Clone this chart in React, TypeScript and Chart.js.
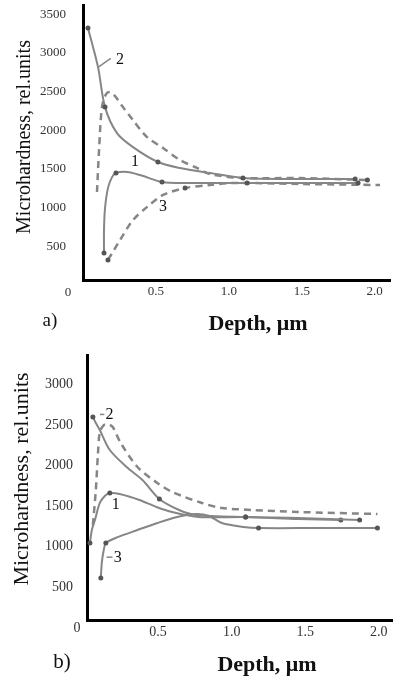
import React, { useEffect, useRef } from 'react';
import { Chart, registerables } from 'chart.js';

Chart.register(...registerables);

const SERIF = "'Liberation Serif', 'Times New Roman', serif";

// ---------- Panel a) ----------
const A2_X = [0.034, 0.103, 0.151, 0.233, 0.343, 0.514, 0.665, 0.871, 1.097, 1.49, 1.866];
const A2_Y = [3323, 2818, 2301, 1965, 1784, 1591, 1514, 1449, 1384, 1371, 1371];

const A2D_X = [0.096, 0.11, 0.13, 0.158, 0.185, 0.219, 0.274, 0.343, 0.439, 0.549, 0.665, 0.782, 0.871, 1.097, 1.49, 1.95];
const A2D_Y = [1203, 1745, 2301, 2469, 2495, 2444, 2301, 2133, 1913, 1772, 1617, 1514, 1436, 1384, 1384, 1358];

const A1_X = [0.144, 0.144, 0.151, 0.171, 0.199, 0.226, 0.302, 0.391, 0.542, 0.713, 1.125, 1.49, 1.886];
const A1_Y = [414, 711, 994, 1254, 1396, 1449, 1462, 1423, 1333, 1320, 1320, 1320, 1320];

const A3_X = [0.171, 0.213, 0.254, 0.343, 0.439, 0.549, 0.7, 0.871, 1.029, 1.49, 2.037];
const A3_Y = [325, 454, 583, 841, 1010, 1165, 1255, 1294, 1320, 1307, 1294];

// ---------- Panel b) ----------
const B2_X = [0.057, 0.077, 0.104, 0.172, 0.286, 0.394, 0.509, 0.643, 0.758, 1.095, 1.452, 1.87];
const B2_Y = [2598, 2524, 2438, 2191, 1982, 1822, 1588, 1452, 1390, 1365, 1353, 1328];

const B2D_X = [0.057, 0.077, 0.091, 0.104, 0.131, 0.158, 0.192, 0.246, 0.36, 0.495, 0.596, 0.799, 0.933, 1.135, 1.452, 1.991];
const B2D_Y = [1265, 1697, 2129, 2413, 2499, 2512, 2475, 2278, 1982, 1785, 1674, 1538, 1477, 1452, 1427, 1402];

const B1_X = [0.037, 0.05, 0.071, 0.104, 0.138, 0.172, 0.239, 0.374, 0.489, 0.596, 0.778, 1.095, 1.452, 1.742];
const B1_Y = [1045, 1205, 1328, 1538, 1624, 1661, 1649, 1575, 1489, 1427, 1365, 1365, 1341, 1328];

const B3_X = [0.111, 0.118, 0.131, 0.145, 0.226, 0.36, 0.495, 0.63, 0.758, 0.846, 0.933, 1.081, 1.183, 1.587, 1.991];
const B3_Y = [613, 810, 958, 1045, 1117, 1205, 1291, 1365, 1402, 1377, 1291, 1242, 1229, 1229, 1229];

// ---------- Ticks & texts ----------
const Y_TICKS_A = [500, 1000, 1500, 2000, 2500, 3000, 3500];
const Y_TICKS_B = [500, 1000, 1500, 2000, 2500, 3000];
const X_TICKS = [0.5, 1.0, 1.5, 2.0];
const X_TICK_LABELS = ['0.5', '1.0', '1.5', '2.0'];
const Y_TITLE = 'Microhardness, rel.units';
const X_TITLE = 'Depth, \u03bcm';

// curve labels: [text, x, y]
const LABELS_A: [string, number, number][] = [['2', 0.254, 2909], ['1', 0.357, 1590], ['3', 0.549, 1010]];
const LABELS_B: [string, number, number][] = [['2', 0.17, 2625], ['1', 0.213, 1513], ['3', 0.226, 858]];
// leader lines: [x1, y1, x2, y2]
const LEADERS_A: [number, number, number, number][] = [[0.1, 2810, 0.19, 2930]];
const LEADERS_B: [number, number, number, number][] = [[0.105, 2630, 0.135, 2630], [0.15, 870, 0.19, 870]];

const LINE = '#868686';
const MARK = '#555';

type Series = { xs: number[]; ys: number[]; dashed: boolean; marks: number[] };

type PanelCfg = {
  height: number;
  area: { left: number; top: number; right: number; bottom: number };
  xMin: number; xMax: number; yMin: number; yMax: number;
  yTicks: number[];
  series: Series[];
  yTickPad: number;
  tickFont: number;
  labels: [string, number, number][];
  leaders: [number, number, number, number][];
  panelName: string;
  panelPos: [number, number];
  panelFont: number;
  zeroPos: [number, number];
  xTitlePos: [number, number];
  xTitleFont: number;
  yTitlePos: [number, number];
  yTitleFont: number;
};

const PANEL_A: PanelCfg = {
  height: 340,
  area: { left: 83, top: 5, right: 390, bottom: 280 },
  xMin: 0, xMax: 2.105, yMin: 66, yMax: 3621,
  yTicks: Y_TICKS_A,
  series: [
    { xs: A2_X, ys: A2_Y, dashed: false, marks: [0, 2, 5, 8, 10] },
    { xs: A2D_X, ys: A2D_Y, dashed: true, marks: [15] },
    { xs: A1_X, ys: A1_Y, dashed: false, marks: [0, 5, 8, 10, 12] },
    { xs: A3_X, ys: A3_Y, dashed: true, marks: [0, 6] },
  ],
  yTickPad: 17,
  tickFont: 13,
  labels: LABELS_A,
  leaders: LEADERS_A,
  panelName: 'a)',
  panelPos: [50, 321],
  panelFont: 19,
  zeroPos: [68, 293],
  xTitlePos: [258, 324],
  xTitleFont: 22,
  yTitlePos: [25, 137],
  yTitleFont: 20,
};

const PANEL_B: PanelCfg = {
  height: 344,
  area: { left: 87, top: 15, right: 395, bottom: 280 },
  xMin: 0.017, xMax: 2.09, yMin: 95, yMax: 3363,
  yTicks: Y_TICKS_B,
  series: [
    { xs: B2_X, ys: B2_Y, dashed: false, marks: [0, 6, 9, 11] },
    { xs: B2D_X, ys: B2D_Y, dashed: true, marks: [] },
    { xs: B1_X, ys: B1_Y, dashed: false, marks: [0, 5, 11, 13] },
    { xs: B3_X, ys: B3_Y, dashed: false, marks: [0, 3, 12, 14] },
  ],
  yTickPad: 14,
  tickFont: 14,
  labels: LABELS_B,
  leaders: LEADERS_B,
  panelName: 'b)',
  panelPos: [62, 322],
  panelFont: 21,
  zeroPos: [77, 288],
  xTitlePos: [267, 325],
  xTitleFont: 22,
  yTitlePos: [22, 139],
  yTitleFont: 22,
};

function makeConfig(p: PanelCfg): any {
  const W = 396;
  const textPlugin = {
    id: 'panelTexts',
    afterDraw(chart: any) {
      const ctx = chart.ctx;
      const xs = chart.scales.x;
      const ys = chart.scales.y;
      ctx.save();
      ctx.fillStyle = '#111';
      ctx.textAlign = 'center';
      ctx.textBaseline = 'middle';
      // curve labels
      ctx.font = `16px ${SERIF}`;
      p.labels.forEach(([t, x, y]) => {
        ctx.fillText(t, xs.getPixelForValue(x), ys.getPixelForValue(y));
      });
      // leaders
      ctx.strokeStyle = LINE;
      ctx.lineWidth = 1.5;
      p.leaders.forEach(([x1, y1, x2, y2]) => {
        ctx.beginPath();
        ctx.moveTo(xs.getPixelForValue(x1), ys.getPixelForValue(y1));
        ctx.lineTo(xs.getPixelForValue(x2), ys.getPixelForValue(y2));
        ctx.stroke();
      });
      // origin zero
      ctx.fillStyle = '#333';
      ctx.font = `${p.tickFont}px ${SERIF}`;
      ctx.fillText('0', p.zeroPos[0], p.zeroPos[1]);
      // panel name
      ctx.fillStyle = '#111';
      ctx.font = `${p.panelFont}px ${SERIF}`;
      ctx.fillText(p.panelName, p.panelPos[0], p.panelPos[1]);
      // x title
      ctx.font = `bold ${p.xTitleFont}px ${SERIF}`;
      ctx.fillText(X_TITLE, p.xTitlePos[0], p.xTitlePos[1]);
      // y title
      ctx.translate(p.yTitlePos[0], p.yTitlePos[1]);
      ctx.rotate(-Math.PI / 2);
      ctx.font = `${p.yTitleFont}px ${SERIF}`;
      ctx.fillText(Y_TITLE, 0, 0);
      ctx.restore();
    },
  };

  return {
    type: 'line',
    data: {
      datasets: p.series.map((s) => ({
        data: s.xs.map((x, i) => ({ x, y: s.ys[i] })),
        borderColor: LINE,
        borderWidth: s.dashed ? 2.5 : 2,
        borderDash: s.dashed ? [7, 5] : [],
        tension: 0.3,
        fill: false,
        pointRadius: (c: any) => (s.marks.includes(c.dataIndex) ? 2.5 : 0),
        pointBackgroundColor: MARK,
        pointBorderColor: MARK,
        pointBorderWidth: 0,
      })),
    },
    options: {
      responsive: false,
      animation: false,
      devicePixelRatio: 1,
      layout: {
        padding: { left: 0, top: p.area.top, right: W - p.area.right, bottom: 0 },
      },
      plugins: { legend: { display: false }, tooltip: { enabled: false }, title: { display: false } },
      scales: {
        x: {
          type: 'linear',
          min: p.xMin,
          max: p.xMax,
          grid: { display: false, drawTicks: false },
          border: { display: true, color: '#000', width: 3 },
          ticks: {
            padding: 4,
            color: '#333',
            font: { family: SERIF, size: p.tickFont },
            maxRotation: 0,
            callback: (_v: any, i: number) => X_TICK_LABELS[i] ?? '',
          },
          afterBuildTicks: (s: any) => {
            s.ticks = X_TICKS.map((v) => ({ value: v }));
          },
          afterFit: (s: any) => {
            s.height = p.height - p.area.bottom;
            s.paddingLeft = 0;
            s.paddingRight = 0;
          },
        },
        y: {
          type: 'linear',
          min: p.yMin,
          max: p.yMax,
          grid: { display: false, drawTicks: false },
          border: { display: true, color: '#000', width: 3 },
          ticks: {
            padding: p.yTickPad,
            color: '#333',
            font: { family: SERIF, size: p.tickFont },
            callback: (v: any) => String(v),
          },
          afterBuildTicks: (s: any) => {
            s.ticks = p.yTicks.map((v) => ({ value: v }));
          },
          afterFit: (s: any) => {
            s.width = p.area.left;
            s.paddingTop = 0;
            s.paddingBottom = 0;
          },
        },
      },
    },
    plugins: [textPlugin],
  };
}

function Panel({ cfg, top }: { cfg: PanelCfg; top: number }) {
  const ref = useRef<HTMLCanvasElement>(null);
  useEffect(() => {
    const chart = new Chart(ref.current as HTMLCanvasElement, makeConfig(cfg));
    return () => chart.destroy();
  }, [cfg]);
  return (
    <div style={{ position: 'absolute', left: 0, top, width: 396, height: cfg.height }}>
      <canvas ref={ref} width={396} height={cfg.height} style={{ width: 396, height: cfg.height, display: 'block' }} />
    </div>
  );
}

export default function App() {
  return (
    <div style={{ position: 'absolute', left: 0, top: 0, width: 396, height: 684, background: '#fff' }}>
      <Panel cfg={PANEL_A} top={0} />
      <Panel cfg={PANEL_B} top={340} />
    </div>
  );
}
